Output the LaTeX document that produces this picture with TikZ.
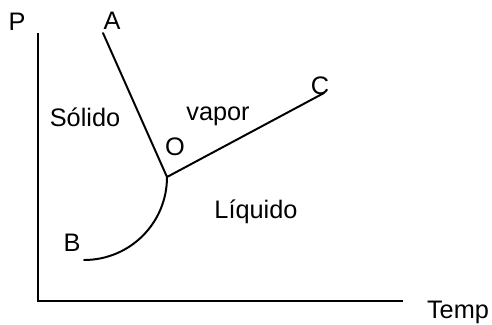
\documentclass[tikz,border=0pt]{standalone}
\usepackage{fontspec}
\setmainfont{Liberation Sans}
\usetikzlibrary{positioning,calc}
\tikzset{
  phline/.style={line width=1.4pt, line cap=round},
  phaxis/.style={line width=1.4pt},
  phlabel/.style={font=\fontsize{18}{21}\selectfont, inner sep=0pt},
}

\begin{document}
\begin{tikzpicture}[x=0.025cm, y=-0.025cm]
  \useasboundingbox (0,0) rectangle (492,324);
  \coordinate (top) at (38,33);
  \coordinate (orig) at (38,301);
  \coordinate (right) at (403,301);
  \coordinate (o) at (167,177);
  \coordinate (a) at (103,33);
  \coordinate (c) at (324,93);
  \coordinate (b) at (84,260);
  \draw[phaxis] (top) -- (orig) -- (right);
  \draw[phline] (a) -- (o) -- (c);
  \draw[phline] (o) .. controls +(0,46) and +(46,0) .. (b);
  \node[phlabel] (plbl) at (17,22) {P};
  \node[phlabel] (tlbl) at (458,312) {Temp};
  \node[phlabel] (albl) at (112,21) {A};
  \node[phlabel] (clbl) at (320,86) {C};
  \node[phlabel] (olbl) at (175,147) {O};
  \node[phlabel] (blbl) at (72,243) {B};
  \node[phlabel] (solido) at (85,117) {Sólido};
  \node[phlabel] (vapor) at (218,116) {vapor};
  \node[phlabel] (liquido) at (256,212) {Líquido};
\end{tikzpicture}
\end{document}
